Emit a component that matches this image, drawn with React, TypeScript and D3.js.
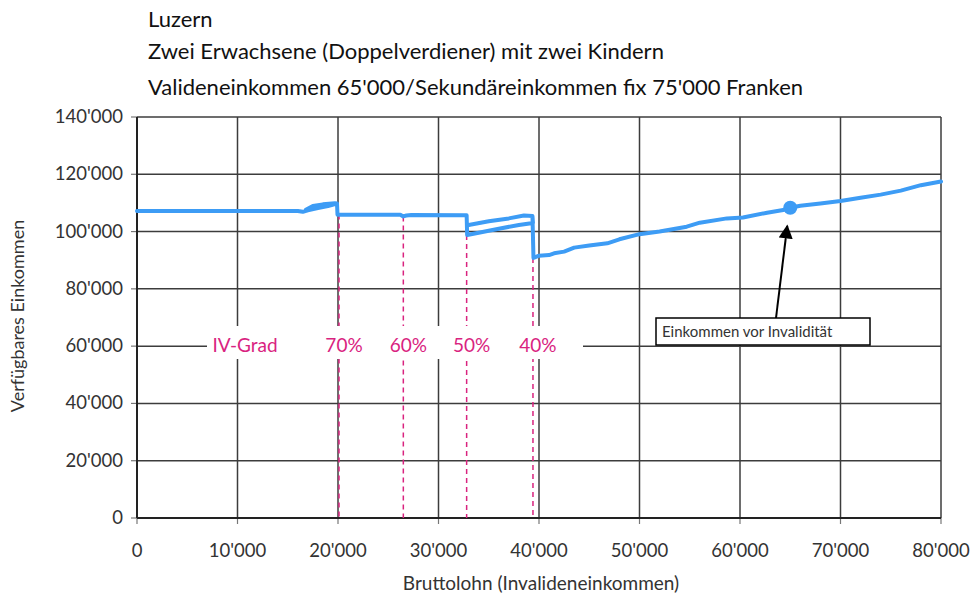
import React from "react";
import * as d3 from "d3";

const titleLines = [
  "Luzern",
  "Zwei Erwachsene (Doppelverdiener) mit zwei Kindern",
  "Valideneinkommen 65'000/Sekundäreinkommen fix 75'000 Franken",
];
const xTicks = [0, 10000, 20000, 30000, 40000, 50000, 60000, 70000, 80000];
const yTicks = [0, 20000, 40000, 60000, 80000, 100000, 120000, 140000];

// ordered path of the disposable-income curve (gross wage, disposable income)
const grossWage = [
  0, 16000, 16500, 17000, 18000, 19000, 19800, 19700, 18500, 17500, 16800, 17500, 18500, 19700, 19900,
  19950, 26200, 26500, 26800, 27300, 32800,
  32850, 34000, 36000, 38000, 39400, 39350, 38500, 37000, 35000, 33000, 35000, 37000, 38500, 39350,
  39450, 40000, 41000, 41500, 42500, 43500, 45000, 46800, 48000, 50000, 52000, 54700, 56000, 58700,
  60300, 62700, 64300, 65000, 66000, 68000, 70000, 72000, 74000, 76000, 78000, 80000,
];
const disposable = [
  107200, 107200, 106900, 107400, 108200, 108900, 109700, 109900, 109500, 108900, 107600, 108900, 109500, 109900, 109800,
  105900, 105900, 105300, 105600, 105800, 105700,
  98800, 99600, 101000, 102300, 103000, 105400, 105600, 104600, 103600, 102300, 103600, 104600, 105600, 105400,
  90800, 91600, 91800, 92400, 93000, 94400, 95100, 95900, 97300, 99100, 100000, 101700, 103100, 104600,
  104900, 106600, 107500, 108300, 109000, 109800, 110700, 111800, 112900, 114300, 116200, 117500,
];

const ivX = [20100, 26500, 32800, 39400];
const ivTop = [106000, 105300, 98800, 90800];
const ivLabels = ["70%", "60%", "50%", "40%"];
const ivTitle = "IV-Grad";

const markerX = 65000;
const markerY = 108300;
const annotation = "Einkommen vor Invalidität";
const xTitle = "Bruttolohn (Invalideneinkommen)";
const yTitle = "Verfügbares Einkommen";

const W = 973;
const H = 598;
const m = { left: 137, right: 941, top: 117, bottom: 518 };
const font = "Lato, 'Open Sans', sans-serif";
const pink = "#d9237f";
const grid = "#3c3c3c";

const fmt = (v: number) => d3.format(",")(v).replace(/,/g, "'");

export default function App() {
  const x = d3.scaleLinear().domain([0, 80000]).range([m.left, m.right]);
  const y = d3.scaleLinear().domain([0, 140000]).range([m.bottom, m.top]);
  const pts: [number, number][] = grossWage.map((g, i) => [g, disposable[i]]);
  const line = d3
    .line<[number, number]>()
    .x((d) => x(d[0]))
    .y((d) => y(d[1]));

  const boxX = 656,
    boxY = 318,
    boxW = 214,
    boxH = 27;
  const arrowStart: [number, number] = [776, boxY];
  const arrowEnd: [number, number] = [x(markerX) - 3, y(markerY) + 18];

  return (
    <svg width={W} height={H} style={{ position: "absolute", left: 0, top: 0, background: "#fff" }} fontFamily={font}>
      <defs>
        <marker id="ah" viewBox="0 0 10 10" refX="9" refY="5" markerWidth="7" markerHeight="7" orient="auto">
          <path d="M0,0 L10,5 L0,10 z" fill="#000" />
        </marker>
      </defs>
      {titleLines.map((t, i) => (
        <text key={i} x={148} y={[27, 59, 95][i]} fontSize={22} fill="#111">
          {t}
        </text>
      ))}
      {/* grid */}
      {yTicks.map((t) => (
        <line key={"gy" + t} x1={m.left} x2={m.right} y1={y(t)} y2={y(t)} stroke={grid} strokeWidth={1.5} />
      ))}
      {xTicks.map((t) => (
        <line key={"gx" + t} x1={x(t)} x2={x(t)} y1={m.top} y2={m.bottom} stroke={grid} strokeWidth={1.5} />
      ))}
      {/* axis ticks */}
      {yTicks.map((t) => (
        <line key={"ty" + t} x1={m.left - 6} x2={m.left} y1={y(t)} y2={y(t)} stroke="#777" strokeWidth={1.2} />
      ))}
      {xTicks.map((t) => (
        <line key={"tx" + t} x1={x(t)} x2={x(t)} y1={m.bottom} y2={m.bottom + 6} stroke="#777" strokeWidth={1.2} />
      ))}
      <line x1={m.left} x2={m.left} y1={m.top} y2={m.bottom} stroke="#222" strokeWidth={2} />
      <line x1={m.left} x2={m.right} y1={m.bottom} y2={m.bottom} stroke="#222" strokeWidth={2} />
      {/* IV dashed lines */}
      {ivX.map((v, i) => (
        <line
          key={"iv" + i}
          x1={x(v)}
          x2={x(v)}
          y1={y(ivTop[i])}
          y2={m.bottom}
          stroke={pink}
          strokeWidth={1.5}
          strokeDasharray="5,4"
        />
      ))}
      {/* label band */}
      <rect x={207} y={326} width={376} height={33} fill="#fff" />
      <text x={245} y={352} fontSize={19} fill={pink} textAnchor="middle">
        {ivTitle}
      </text>
      {ivLabels.map((l, i) => (
        <text key={l} x={x(ivX[i]) + 5} y={352} fontSize={19} fill={pink} textAnchor="middle">
          {l}
        </text>
      ))}
      {/* curve */}
      <path d={line(pts) || ""} fill="none" stroke="#3d9cf5" strokeWidth={4} strokeLinejoin="round" strokeLinecap="round" />
      <circle cx={x(markerX)} cy={y(markerY)} r={7} fill="#3d9cf5" />
      {/* annotation */}
      <line
        x1={arrowStart[0]}
        y1={arrowStart[1]}
        x2={arrowEnd[0]}
        y2={arrowEnd[1]}
        stroke="#000"
        strokeWidth={2}
        markerEnd="url(#ah)"
      />
      <rect x={boxX} y={boxY} width={boxW} height={boxH} fill="#fff" stroke="#000" strokeWidth={1.5} />
      <text x={boxX + 6} y={boxY + 19} fontSize={15} fill="#333">
        {annotation}
      </text>
      {/* tick labels */}
      {yTicks.map((t) => (
        <text key={"ly" + t} x={m.left - 14} y={y(t) + 6} fontSize={18.5} fill="#333" textAnchor="end">
          {fmt(t)}
        </text>
      ))}
      {xTicks.map((t) => (
        <text key={"lx" + t} x={x(t)} y={557} fontSize={18.5} fill="#333" textAnchor="middle">
          {fmt(t)}
        </text>
      ))}
      <text x={541} y={590} fontSize={19} fill="#333" textAnchor="middle">
        {xTitle}
      </text>
      <text transform={`translate(24,${316}) rotate(-90)`} fontSize={18} fill="#333" textAnchor="middle">
        {yTitle}
      </text>
    </svg>
  );
}
